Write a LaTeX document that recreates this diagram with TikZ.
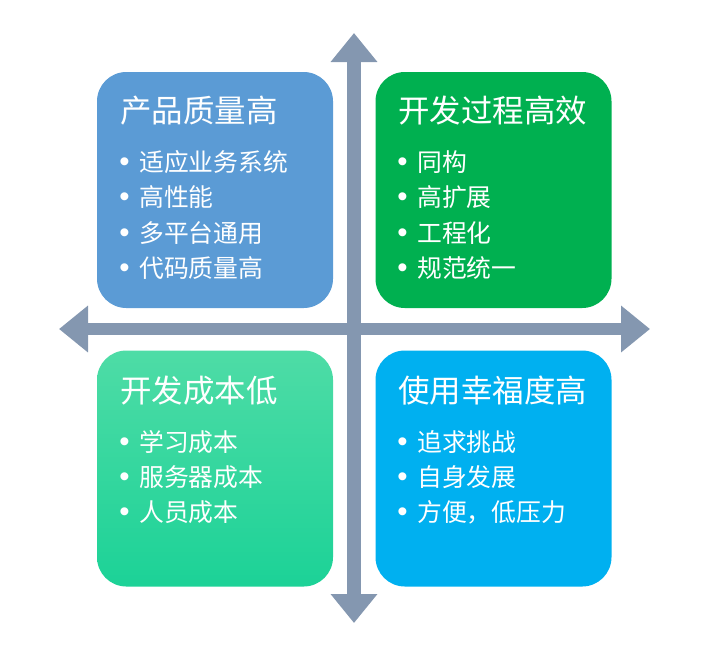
\documentclass[tikz,border=0pt]{standalone}
\usepackage{fontspec}
\setmainfont{Liberation Sans}
\newfontfamily\cjk{Noto Sans CJK SC}
\usepackage{xcolor}
\definecolor{cQual}{HTML}{5B9BD5}
\definecolor{cProc}{HTML}{00B050}
\definecolor{cCostT}{HTML}{4EDCA6}
\definecolor{cCostB}{HTML}{1CD297}
\definecolor{cHappy}{HTML}{00B0F0}
\definecolor{cAxis}{HTML}{8497B0}
\usetikzlibrary{arrows.meta}
\newcommand\bul{\makebox[15pt][l]{\rmfamily\fontsize{22pt}{22pt}\selectfont\textbullet}}

\begin{document}
\begin{tikzpicture}[
  x=0.75pt,y=-0.75pt,
  quad/.style={rounded corners=22pt,minimum width=177pt,minimum height=177pt,
    inner sep=0pt,draw=none},
  ttl/.style={anchor=west,inner sep=0pt,text=white,
    font=\cjk\fontsize{23.6pt}{28pt}\selectfont},
  item/.style={anchor=west,inner sep=0pt,text=white,
    font=\cjk\fontsize{18.6pt}{22pt}\selectfont},
  axis/.style={cAxis,{Triangle[length=21.75pt,width=33.75pt]}-{Triangle[length=21.75pt,width=33.75pt]}}]

\useasboundingbox (0,0) rectangle (712,654);

% --- quadrant boxes ---
\node[quad,fill=cQual] (q1) at (215,190) {};
\node[quad,fill=cProc] (q2) at (493.5,190) {};
\node[quad,top color=cCostT,bottom color=cCostB] (q3) at (215,468.5) {};
\node[quad,fill=cHappy] (q4) at (493.5,468.5) {};

% --- axes ---
\coordinate (ytop) at (354,33);
\coordinate (ybot) at (354,623);
\coordinate (xlft) at (59,329);
\coordinate (xrgt) at (650,329);
\draw[axis,line width=10.5pt] (ybot) -- (ytop);
\draw[axis,line width=9pt] (xlft) -- (xrgt);

% top left
\node[ttl] (t1) at (120,111) {产品质量高};
\node[item] (i11) at (119,162) {\bul 适应业务系统};
\node[item] (i12) at (119,197) {\bul 高性能};
\node[item] (i13) at (119,233) {\bul 多平台通用};
\node[item] (i14) at (119,268) {\bul 代码质量高};
% top right
\node[ttl] (t2) at (398,111) {开发过程高效};
\node[item] (i21) at (397,162) {\bul 同构};
\node[item] (i22) at (397,197) {\bul 高扩展};
\node[item] (i23) at (397,233) {\bul 工程化};
\node[item] (i24) at (397,268) {\bul 规范统一};
% bottom left
\node[ttl] (t3) at (120,391) {开发成本低};
\node[item] (i31) at (119,442) {\bul 学习成本};
\node[item] (i32) at (119,477) {\bul 服务器成本};
\node[item] (i33) at (119,512) {\bul 人员成本};
% bottom right
\node[ttl] (t4) at (398,391) {使用幸福度高};
\node[item] (i41) at (397,442) {\bul 追求挑战};
\node[item] (i42) at (397,477) {\bul 自身发展};
\node[item] (i43) at (397,512) {\bul 方便，低压力};
\end{tikzpicture}
\end{document}
